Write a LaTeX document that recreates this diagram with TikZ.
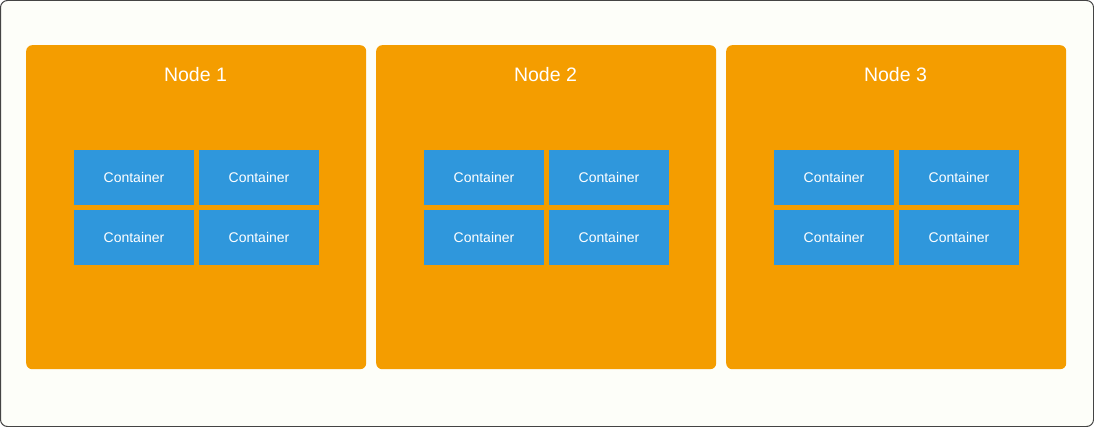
\documentclass[tikz,border=0pt]{standalone}
\usepackage{fontspec}
\setmainfont{Liberation Sans}
\definecolor{bgc}{HTML}{FDFEF9}
\definecolor{framec}{HTML}{444444}
\definecolor{nodec}{HTML}{F49D00}
\definecolor{contc}{HTML}{2F97DC}
\tikzset{
  hostbox/.style={fill=nodec, draw=none, rounded corners=6pt, minimum width=340pt, minimum height=324pt, inner sep=0pt, anchor=north west},
  hostlabel/.style={text=white, font=\fontsize{19.5pt}{22pt}\selectfont, inner sep=0pt},
  contbox/.style={fill=contc, draw=none, minimum width=120pt, minimum height=55pt, inner sep=0pt, text=white, font=\fontsize{14pt}{16pt}\selectfont},
}
\begin{document}
\begin{tikzpicture}[x=1pt,y=-1pt]
\useasboundingbox (0,0) rectangle (1094,427);
\draw[fill=bgc, draw=framec, line width=1pt, rounded corners=7pt] (0.5,0.5) rectangle (1093.5,426.5);
\foreach \i/\xo in {1/26,2/376,3/726} {
  \node[hostbox] (host\i) at (\xo,45) {};
  \node[hostlabel] (lab\i) at (\xo+169.5,74.5) {Node \i};
  \node[contbox] (c\i a) at (\xo+108,177.5) {Container};
  \node[contbox] (c\i b) at (\xo+233,177.5) {Container};
  \node[contbox] (c\i c) at (\xo+108,237.5) {Container};
  \node[contbox] (c\i d) at (\xo+233,237.5) {Container};
}
\end{tikzpicture}
\end{document}
